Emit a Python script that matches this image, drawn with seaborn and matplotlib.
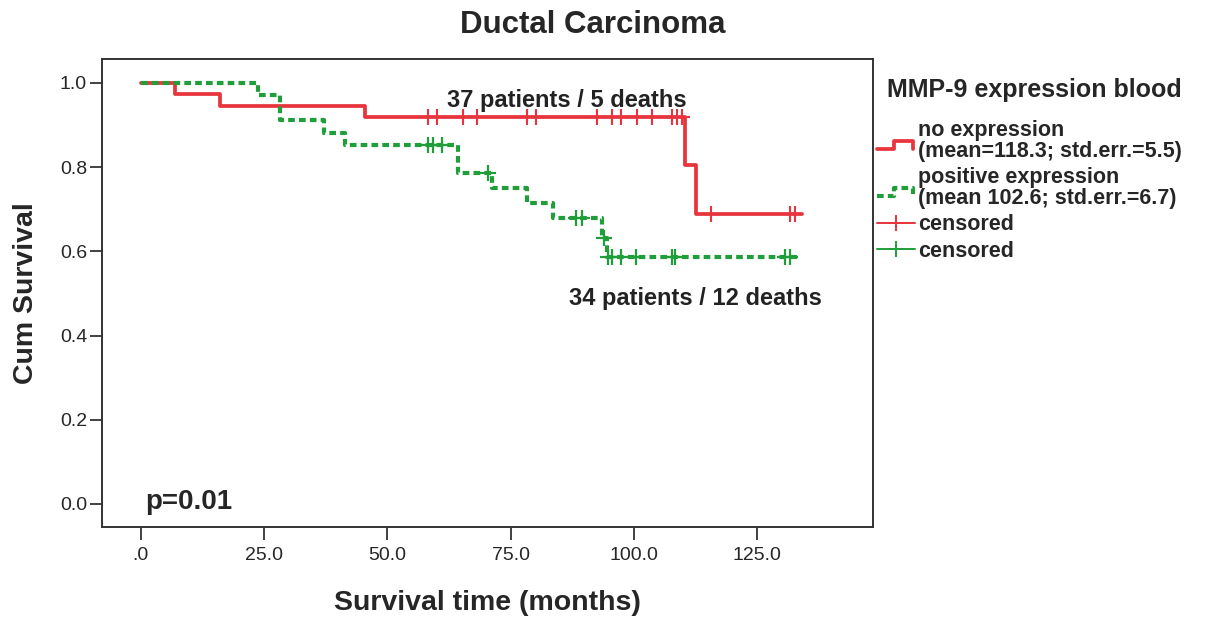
import matplotlib
matplotlib.use("Agg")
import matplotlib.pyplot as plt
import numpy as np
import pandas as pd
import seaborn as sns
from matplotlib.legend_handler import HandlerBase
from matplotlib.lines import Line2D

# Kaplan-Meier steps (months, cum survival)
red_t = [0, 7.0, 16.0, 45.5, 110.4, 112.5, 134.0]
red_s = [1.0, 0.973, 0.946, 0.919, 0.804, 0.689, 0.689]
red_cens = [58.3, 60.1, 65.3, 68.1, 78.3, 80.1, 92.5, 95.6, 97.4, 100.6,
            103.6, 107.7, 108.8, 109.8, 115.6, 131.6, 132.7]

green_t = [0, 23.8, 28.2, 37.1, 41.4, 64.4, 71.3, 78.3, 83.5, 93.5, 94.5, 133.0]
green_s = [1.0, 0.971, 0.912, 0.882, 0.853, 0.787, 0.750, 0.715, 0.679, 0.632, 0.586, 0.586]
green_cens = [58.3, 59.3, 61.1, 70.4, 88.3, 89.4, 93.9, 94.8, 95.5, 97.3, 100.5,
              107.6, 108.4, 130.6, 131.6]

groups = ["no expression\n(mean=118.3; std.err.=5.5)",
          "positive expression\n(mean 102.6; std.err.=6.7)"]
x_ticks = [0, 25, 50, 75, 100, 125]
x_labels = [".0", "25.0", "50.0", "75.0", "100.0", "125.0"]
y_ticks = [0.0, 0.2, 0.4, 0.6, 0.8, 1.0]

RED = "#e8343c"
GREEN = "#1f9e3a"
DASH = (1.6, 1.0)

sns.set_style("ticks")
plt.rcParams["font.family"] = ["Liberation Sans", "DejaVu Sans"]


def surv_at(times, surv, t):
    i = np.searchsorted(times, t, side="right") - 1
    return np.asarray(surv)[i]


curves = pd.concat([
    pd.DataFrame({"time": red_t, "surv": red_s, "group": groups[0]}),
    pd.DataFrame({"time": green_t, "surv": green_s, "group": groups[1]}),
])
cens = pd.concat([
    pd.DataFrame({"time": red_cens, "surv": surv_at(red_t, red_s, red_cens), "group": "r"}),
    pd.DataFrame({"time": green_cens, "surv": surv_at(green_t, green_s, green_cens), "group": "g"}),
])

fig = plt.figure(figsize=(12.07, 6.19), dpi=100)
ax = fig.add_axes([0.0843, 0.1491, 0.6388, 0.7551])

sns.lineplot(data=curves[curves.group == groups[0]], x="time", y="surv",
             drawstyle="steps-post", color=RED, lw=2.7, ax=ax, legend=False)
sns.lineplot(data=curves[curves.group == groups[1]], x="time", y="surv",
             drawstyle="steps-post", color=GREEN, lw=3.0, ax=ax, legend=False)
ax.lines[1].set_dashes(DASH)
ax.plot(cens[cens.group == "r"].time, cens[cens.group == "r"].surv, ls="none",
        marker="+", ms=11, mew=1.5, color=RED)
ax.plot(cens[cens.group == "g"].time, cens[cens.group == "g"].surv, ls="none",
        marker="+", ms=12, mew=1.6, color=GREEN)

ax.set_xlim(-7.9, 148.4)
ax.set_ylim(-0.054, 1.056)
ax.set_xticks(x_ticks)
ax.set_xticklabels(x_labels)
ax.set_yticks(y_ticks)
ax.set_yticklabels([f"{v:.1f}" for v in y_ticks])
ax.tick_params(axis="x", length=9.4, width=1.3, labelsize=14, pad=5, color="#333333")
ax.tick_params(axis="y", length=8.6, width=1.3, labelsize=14, pad=2, color="#333333")
for sp in ax.spines.values():
    sp.set_color("#333333")
    sp.set_linewidth(1.4)

ax.set_xlabel("Survival time (months)", fontsize=20.5, fontweight="bold", labelpad=19)
ax.set_ylabel("Cum Survival", fontsize=20.5, fontweight="bold", labelpad=15)
fig.text(0.491, 0.96, "Ductal Carcinoma", ha="center", va="center",
         fontsize=22.5, fontweight="bold")

ax.text(0.6035, 0.9108, "37 patients / 5 deaths", transform=ax.transAxes,
        ha="center", va="center", fontsize=17, fontweight="bold", color="#222222")
ax.text(0.7695, 0.4893, "34 patients / 12 deaths", transform=ax.transAxes,
        ha="center", va="center", fontsize=17, fontweight="bold", color="#222222")
ax.text(0.0562, 0.0528, "p=0.01", transform=ax.transAxes,
        ha="left", va="center", fontsize=20, fontweight="bold")


class StepHandler(HandlerBase):
    def create_artists(self, legend, orig_handle, xdescent, ydescent,
                       width, height, fontsize, trans):
        x0 = -xdescent
        xs = [x0, x0 + 0.45 * width, x0 + 0.45 * width, x0 + 0.95 * width,
              x0 + 0.95 * width]
        lo = -ydescent + 0.0 * height
        hi = -ydescent + 0.55 * height
        ys = [lo, lo, hi, hi, lo]
        ln = Line2D(xs, ys, color=orig_handle.get_color(),
                    lw=orig_handle.get_linewidth(), transform=trans)
        if orig_handle.get_linestyle() != "-":
            ln.set_dashes(DASH)
        return [ln]


h_red = Line2D([], [], color=RED, lw=2.7)
h_green = Line2D([], [], color=GREEN, lw=3.0, ls="--")
h_rc = Line2D([], [], color=RED, lw=1.4, marker="+", ms=12, mew=1.4)
h_gc = Line2D([], [], color=GREEN, lw=1.4, marker="+", ms=12, mew=1.4)

leg = fig.legend([h_red, h_green, h_rc, h_gc],
                 groups + ["censored", "censored"],
                 handler_map={h_red: StepHandler(), h_green: StepHandler()},
                 loc="upper left", bbox_to_anchor=(0.727, 0.874),
                 frameon=False, title="MMP-9 expression blood",
                 title_fontproperties={"weight": "bold", "size": 18},
                 prop={"weight": "bold", "size": 15.5},
                 handlelength=1.75, handletextpad=0.15, labelspacing=0.24,
                 borderaxespad=0, borderpad=0)
leg._legend_box.align = "left"
leg._legend_box.sep = 13
leg.get_title().set_position((10, 0))
for t in leg.get_texts():
    t.set_linespacing(1.0)

fig.savefig("out.png", dpi=100)
